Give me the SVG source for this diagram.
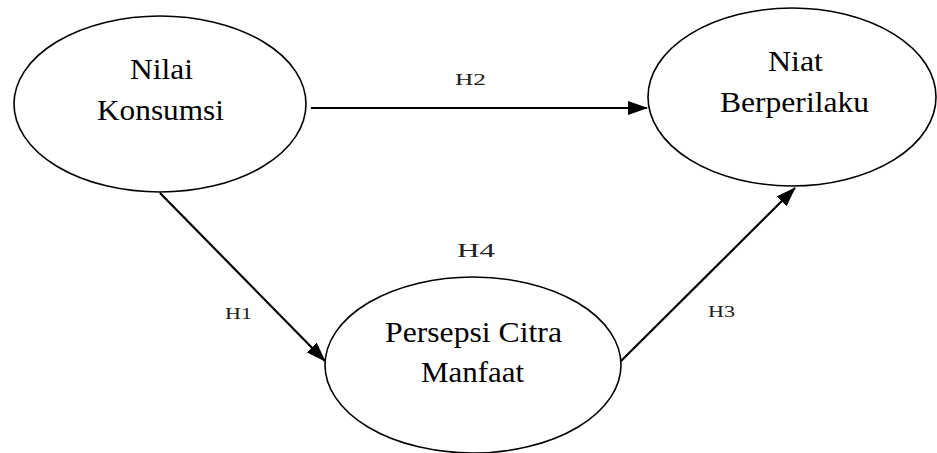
<svg xmlns="http://www.w3.org/2000/svg" width="937" height="453" viewBox="0 0 937 453">
<style>
.node{fill:#fff;stroke:#000;stroke-width:1.6}
.t{font-family:'Liberation Serif','DejaVu Serif',serif;font-size:29px;fill:#000;text-anchor:middle}
.lbl{font-family:'Liberation Serif','DejaVu Serif',serif;font-size:17px;fill:#222;text-anchor:middle}
.edge{stroke:#000;stroke-width:2.2;fill:none}
</style>
<defs>
<marker id="ah" markerWidth="20" markerHeight="14" refX="19" refY="7" orient="auto" markerUnits="userSpaceOnUse" viewBox="0 0 20 14">
<path d="M0,0 L20,7 L0,14 Z" fill="#000"/>
</marker>
</defs>
<g id="connectors">
<line class="edge" x1="311" y1="108" x2="647" y2="108" marker-end="url(#ah)"/>
<line class="edge" x1="160" y1="193" x2="325" y2="361" marker-end="url(#ah)"/>
<line class="edge" x1="620" y1="362" x2="795" y2="188" marker-end="url(#ah)"/>
</g>
<g id="node-nilai">
<ellipse class="node" cx="160" cy="104" rx="146" ry="88"/>
<text class="t" x="161.5" y="79" textLength="63" lengthAdjust="spacingAndGlyphs">Nilai</text>
<text class="t" x="160.5" y="120" textLength="127" lengthAdjust="spacingAndGlyphs">Konsumsi</text>
</g>
<g id="node-niat">
<ellipse class="node" cx="792" cy="97" rx="144" ry="89"/>
<text class="t" x="795.5" y="71" textLength="55" lengthAdjust="spacingAndGlyphs">Niat</text>
<text class="t" x="794.5" y="112" textLength="149" lengthAdjust="spacingAndGlyphs">Berperilaku</text>
</g>
<g id="node-persepsi">
<ellipse class="node" cx="473" cy="365" rx="148" ry="88"/>
<text class="t" x="473.5" y="342" textLength="177" lengthAdjust="spacingAndGlyphs">Persepsi Citra</text>
<text class="t" x="472.5" y="382" textLength="103" lengthAdjust="spacingAndGlyphs">Manfaat</text>
</g>
<g id="labels">
<text class="lbl" x="470.5" y="85" textLength="31" lengthAdjust="spacingAndGlyphs">H2</text>
<text class="lbl" x="238.5" y="319" textLength="27" lengthAdjust="spacingAndGlyphs">H1</text>
<text class="lbl" x="721.5" y="317" textLength="27" lengthAdjust="spacingAndGlyphs">H3</text>
<text class="lbl" x="476" y="257" textLength="38" lengthAdjust="spacingAndGlyphs" style="font-size:19px">H4</text>
</g>
</svg>
